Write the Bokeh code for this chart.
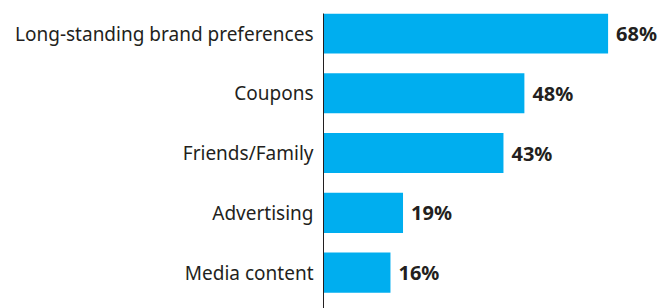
from bokeh.plotting import figure
from bokeh.models import ColumnDataSource, Range1d, FixedTicker
from bokeh.core.properties import value
from bokeh.embed import file_html
from bokeh.resources import INLINE

categories = ["Long-standing brand preferences", "Coupons", "Friends/Family", "Advertising", "Media content"]
values = [68, 48, 43, 19, 16]
labels = [f"{v}%" for v in values]

n = len(categories)
pos = [n - 1 - i for i in range(n)]

src = ColumnDataSource(dict(y=pos, v=values, lab=labels, cat=categories))

p = figure(width=662, height=308, output_backend="svg", toolbar_location=None,
           x_range=Range1d(0, 81), y_range=Range1d(-0.6, n - 1 + 0.335),
           min_border_left=323, min_border_right=0, min_border_top=13, min_border_bottom=0)

p.hbar(y="y", right="v", left=0, height=0.67, source=src, color="#00AEEF", line_color=None)
p.text(x="v", y="y", text="lab", source=src, x_offset=8, text_baseline="middle", text_align="left",
       text_font=value("Noto Sans"), text_font_style="bold", text_font_size="20px", text_color="#231F20")

p.xaxis.visible = False
p.xgrid.visible = False
p.ygrid.visible = False
p.outline_line_color = None

ax = p.yaxis[0]
ax.ticker = FixedTicker(ticks=pos)
ax.major_label_overrides = {y: c for y, c in zip(pos, categories)}
ax.major_tick_line_color = None
ax.minor_tick_line_color = None
ax.major_tick_out = 0
ax.major_tick_in = 0
ax.major_label_standoff = 10
ax.major_label_text_font = "Noto Sans"
ax.major_label_text_font_size = "19px"
ax.major_label_text_color = "#231F20"
ax.axis_line_color = "#231F20"
ax.axis_line_width = 1

open("out.html", "w").write(file_html(p, INLINE))
